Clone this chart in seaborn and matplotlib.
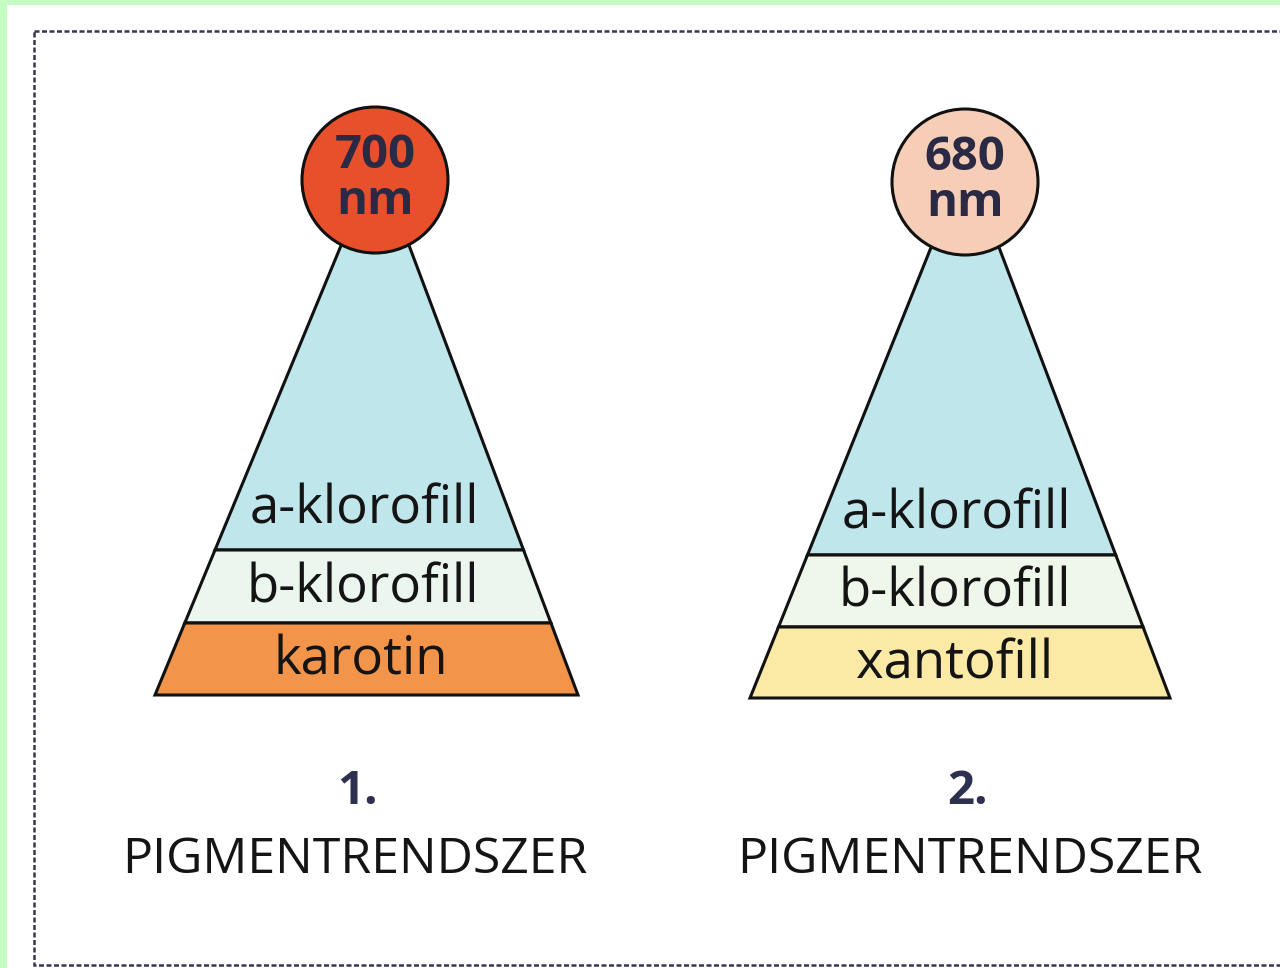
import numpy as np
import matplotlib
matplotlib.use("Agg")
import matplotlib.pyplot as plt
from matplotlib.patches import Polygon, Circle, Rectangle
import seaborn as sns

# --- data ---------------------------------------------------------------
system_numbers = ["1.", "2."]
system_title = "PIGMENTRENDSZER"
wavelengths_nm = [700, 680]
layers_1 = ["a-klorofill", "b-klorofill", "karotin"]
layers_2 = ["a-klorofill", "b-klorofill", "xantofill"]
colors_1 = ["#bfe6ea", "#eaf6ee", "#f2954a"]
colors_2 = ["#bfe6ea", "#eef7ea", "#fbe9a6"]
center_colors = ["#e8502c", "#f6cdb6"]

# --- layout (pixel coords) ---------------------------------------------
# per pyramid: top y, top left/right x, base y, base left/right x, band boundaries
geom = [
    dict(cx=375, cy=180, r=73, top=(248, 340, 410), base=(695, 155, 578),
         bounds=[550, 623], numx=357, titx=355),
    dict(cx=965, cy=182, r=73, top=(250, 930, 1000), base=(698, 750, 1170),
         bounds=[555, 627], numx=968, titx=970),
]
layers = [layers_1, layers_2]
colors = [colors_1, colors_2]

sns.set_theme(style="white")
plt.rcParams["font.family"] = ["Open Sans", "DejaVu Sans"]

W, H = 1280, 968
fig = plt.figure(figsize=(W / 100, H / 100), dpi=100, facecolor="#c4fcc4")
ax = fig.add_axes([0, 0, 1, 1])
ax.set_xlim(0, W)
ax.set_ylim(H, 0)
ax.axis("off")

ax.add_patch(Rectangle((7, 5), W, H, facecolor="white", edgecolor="none", zorder=0))
ax.add_patch(Rectangle((34, 31), 1270, 934, facecolor="none", edgecolor="#3a3550",
                       lw=1.8, ls=(0, (2, 1)), zorder=1))


def edge_x(g, y):
    ty, tl, tr = g["top"]
    by, bl, br = g["base"]
    t = (y - ty) / (by - ty)
    return tl + t * (bl - tl), tr + t * (br - tr)


for i, g in enumerate(geom):
    ty, tl, tr = g["top"]
    by, bl, br = g["base"]
    # apex where the two edges meet
    sl = (bl - tl) / (by - ty)
    sr = (br - tr) / (by - ty)
    apex_y = ty - (tr - tl) / (sr - sl)
    apex_x = tl + sl * (apex_y - ty)
    ys = [apex_y] + g["bounds"] + [by]
    for k, (name, col) in enumerate(zip(layers[i], colors[i])):
        y0, y1 = ys[k], ys[k + 1]
        l0, r0 = edge_x(g, y0)
        l1, r1 = edge_x(g, y1)
        ax.add_patch(Polygon([(l0, y0), (r0, y0), (r1, y1), (l1, y1)], closed=True,
                             facecolor=col, edgecolor="#111111", lw=2.2,
                             joinstyle="miter", zorder=2))
        ymid = y0 + (y1 - y0) / 2 if k > 0 else g["bounds"][0] - 42
        ax.text((edge_x(g, ymid)[0] + edge_x(g, ymid)[1]) / 2 - 6, ymid + 2, name,
                ha="center", va="center", fontsize=38, color="#141414", zorder=4)
    ax.add_patch(Circle((g["cx"], g["cy"]), g["r"], facecolor=center_colors[i],
                        edgecolor="#111111", lw=2.2, zorder=5))
    ax.text(g["cx"], g["cy"] - 25, str(wavelengths_nm[i]), ha="center", va="center",
            fontsize=34, fontweight="bold", color="#2b2a45", zorder=6)
    ax.text(g["cx"], g["cy"] + 22, "nm", ha="center", va="center",
            fontsize=34, fontweight="bold", color="#2b2a45", zorder=6)
    ax.text(g["numx"], 792, system_numbers[i], ha="center", va="center",
            fontsize=34, fontweight="bold", color="#2e3050", zorder=4)
    ax.text(g["titx"], 860, system_title, ha="center", va="center",
            fontsize=36, color="#141414", zorder=4)

fig.savefig("out.png", dpi=100, facecolor=fig.get_facecolor())
